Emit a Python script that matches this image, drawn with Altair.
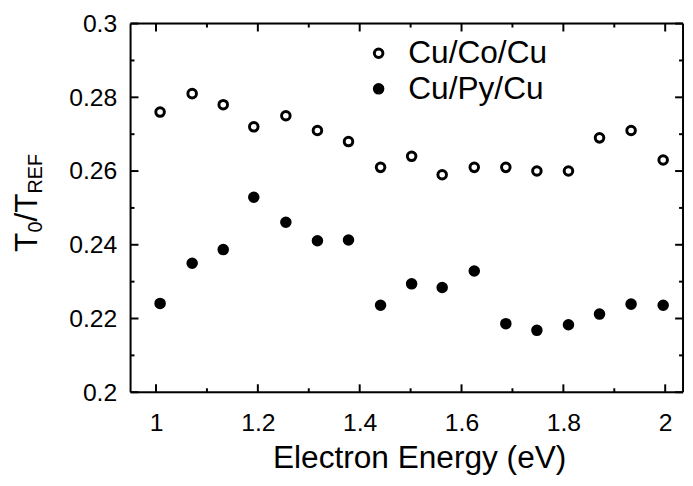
import altair as alt
import pandas as pd

# ---- data ----
energy = [1.008, 1.071, 1.132, 1.192, 1.255, 1.317, 1.378, 1.441, 1.502,
          1.562, 1.625, 1.687, 1.748, 1.810, 1.871, 1.933, 1.996]
cu_co_cu = [0.276, 0.281, 0.278, 0.272, 0.275, 0.271, 0.268, 0.261, 0.264,
            0.259, 0.261, 0.261, 0.260, 0.260, 0.269, 0.271, 0.263]
cu_py_cu = [0.2241, 0.2350, 0.2387, 0.2529, 0.2461, 0.2411, 0.2413, 0.2236, 0.2294,
            0.2284, 0.2329, 0.2186, 0.2168, 0.2183, 0.2212, 0.2239, 0.2236]
series_names = ["Cu/Co/Cu", "Cu/Py/Cu"]

x_major = [1.0, 1.2, 1.4, 1.6, 1.8, 2.0]
x_minor = [1.1, 1.3, 1.5, 1.7, 1.9]
y_major = [0.20, 0.22, 0.24, 0.26, 0.28, 0.30]
y_minor = [0.21, 0.23, 0.25, 0.27, 0.29]
x_domain = [0.95, 2.035]
y_domain = [0.2, 0.3]

x_title = "Electron Energy (eV)"
y_title_parts = ["T", "0", "/T", "REF"]

# ---- layout ----
W, H = 559, 373
FONT = "Liberation Sans"

df = pd.DataFrame({
    "energy": energy + energy,
    "value": cu_co_cu + cu_py_cu,
    "series": [series_names[0]] * len(energy) + [series_names[1]] * len(energy),
})

xs = alt.Scale(domain=x_domain, nice=False, zero=False)
ys = alt.Scale(domain=y_domain, nice=False, zero=False)

x_axis = alt.Axis(
    values=x_major, format="~g", ticks=False, domain=False, grid=False,
    labelFontSize=25, labelPadding=19, labelColor="black", labelFont=FONT,
    title=x_title, titleFontSize=32, titleFont=FONT, titleFontWeight="normal",
    titleX=292, titleY=76, titleBaseline="alphabetic", titleColor="black")
y_axis = alt.Axis(
    values=y_major, format="~g", ticks=False, domain=False, grid=False,
    labelFontSize=25, labelPadding=14, labelColor="black", labelFont=FONT,
    title="")

points = alt.Chart(df).mark_point(
    filled=True, size=75, stroke="black", strokeWidth=3, opacity=1
).encode(
    x=alt.X("energy:Q", scale=xs, axis=x_axis),
    y=alt.Y("value:Q", scale=ys, axis=y_axis),
    fill=alt.Fill("series:N", scale=alt.Scale(domain=series_names, range=["white", "black"]),
                  legend=alt.Legend(title=None, orient="none", legendX=235, legendY=14,
                                    padding=0, symbolType="circle", symbolSize=75,
                                    symbolStrokeWidth=3, symbolStrokeColor="black",
                                    labelFontSize=32, labelFont=FONT, labelColor="black",
                                    labelOffset=14, rowPadding=4)),
)


# inward ticks drawn as thin filled rectangles positioned by the shared scales
def xticks(values, length, side):
    d = pd.DataFrame({"v": values})
    yc = H - length / 2 if side == "bottom" else length / 2
    return alt.Chart(d).mark_rect(color="black", width=2, height=length).encode(
        x=alt.X("v:Q", scale=xs, axis=x_axis), y=alt.value(yc))


def yticks(values, length, side):
    d = pd.DataFrame({"v": values})
    xc = length / 2 if side == "left" else W - length / 2
    return alt.Chart(d).mark_rect(color="black", width=length, height=2).encode(
        y=alt.Y("v:Q", scale=ys, axis=y_axis), x=alt.value(xc))


tick_layers = [
    xticks(x_major, 8, "bottom"), xticks(x_minor, 4, "bottom"),
    xticks(x_major, 8, "top"), xticks(x_minor, 4, "top"),
    yticks(y_major, 8, "left"), yticks(y_minor, 4, "left"),
    yticks(y_major, 8, "right"), yticks(y_minor, 4, "right"),
]

# plot frame: bars along the scale-domain edges
frame_h = pd.DataFrame({"x0": [x_domain[0]] * 2, "x1": [x_domain[1]] * 2, "y": y_domain})
frame_v = pd.DataFrame({"x": x_domain, "y0": [y_domain[0]] * 2, "y1": [y_domain[1]] * 2})
frame_layers = [
    alt.Chart(frame_h).mark_rect(color="black", height=2).encode(
        x=alt.X("x0:Q", scale=xs, axis=x_axis), x2="x1:Q",
        y=alt.Y("y:Q", scale=ys, axis=y_axis)),
    alt.Chart(frame_v).mark_rect(color="black", width=2).encode(
        x=alt.X("x:Q", scale=xs, axis=x_axis),
        y=alt.Y("y0:Q", scale=ys, axis=y_axis), y2="y1:Q"),
]

# y-axis title with subscripts (rotated text pieces)
F_MAIN, F_SUB = 32, 20
adv = [0.611 * F_MAIN, 0.556 * F_SUB, (0.278 + 0.611) * F_MAIN, 2.0 * F_SUB]
sizes = [F_MAIN, F_SUB, F_MAIN, F_SUB]
xpos = [-95, -90, -95, -90]
title_layers = []
ystart = 231.0
for part, a, fs, xp in zip(y_title_parts, adv, sizes, xpos):
    title_layers.append(
        alt.Chart(pd.DataFrame({"t": [part]})).mark_text(
            angle=270, align="left", baseline="alphabetic", fontSize=fs,
            font=FONT, color="black"
        ).encode(text="t:N", x=alt.value(xp), y=alt.value(ystart))
    )
    ystart -= a

chart = alt.layer(points, *frame_layers, *tick_layers, *title_layers).properties(
    width=W, height=H,
    autosize=alt.AutoSizeParams(type="none"),
    padding={"left": 124, "top": 13, "right": 2, "bottom": 84},
)

chart.save("out.html", embed_options={"renderer": "svg", "actions": False})
